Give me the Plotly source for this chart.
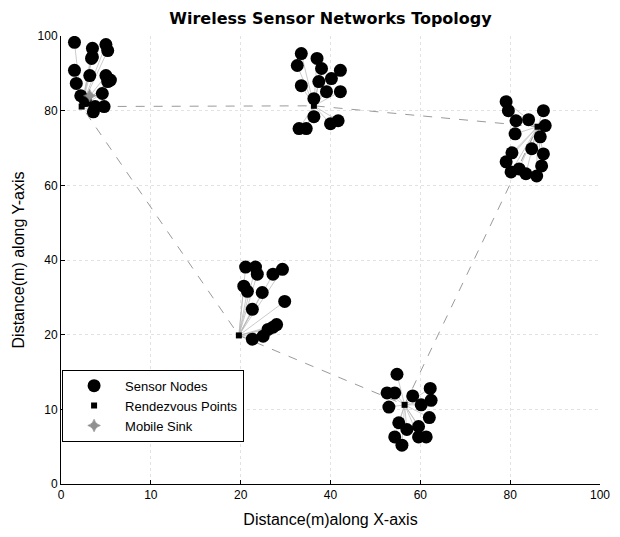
import numpy as np
import plotly.graph_objects as go

# Axis labels as printed on the figure (evenly spaced positions)
TICK_LABELS = [0, 10, 20, 40, 60, 80, 100]

# Sensor node coordinates (m), one cluster per rendezvous point
c1_x = [1.5, 3.5, 5.0, 5.2, 1.5, 3.2, 5.0, 5.2, 1.7, 4.6, 2.2, 3.8, 4.8, 3.6, 3.4, 2.7, 3.5, 5.5]
c1_y = [98.3, 96.7, 97.7, 96.1, 90.8, 89.4, 89.4, 87.8, 87.3, 84.6, 84.0, 81.1, 81.1, 79.7, 94.0, 82.7, 94.4, 88.2]

c2_x = [33.5, 32.6, 37.0, 38.0, 42.2, 40.2, 33.5, 37.4, 39.1, 42.2, 36.3, 36.3, 33.0, 34.6, 40.0, 41.7]
c2_y = [95.3, 92.1, 94.0, 91.3, 90.8, 88.6, 86.7, 87.8, 85.1, 85.1, 83.2, 78.4, 75.2, 75.2, 76.5, 77.3]

c3_x = [21.1, 23.3, 23.7, 27.2, 29.3, 20.7, 21.5, 24.8, 29.8, 22.6, 28.0, 26.1, 22.6, 25.0, 27.2]
c3_y = [38.1, 38.1, 36.2, 36.2, 37.5, 33.0, 31.6, 31.3, 28.9, 26.8, 22.7, 21.4, 19.4, 19.8, 22.0]

c4_x = [79.1, 79.6, 81.3, 84.1, 87.4, 87.8, 81.1, 86.7, 80.4, 79.1, 80.2, 83.5, 85.9, 87.4, 87.0, 84.8, 82.0]
c4_y = [82.4, 80.0, 77.3, 77.6, 80.0, 76.0, 73.8, 73.0, 68.7, 66.3, 63.6, 63.1, 62.5, 68.4, 65.2, 69.8, 64.4]

c5_x = [54.8, 52.6, 54.3, 58.3, 62.2, 53.0, 62.4, 60.2, 62.0, 55.2, 59.6, 57.0, 59.6, 61.3, 54.3, 55.9]
c5_y = [14.7, 12.2, 12.2, 11.8, 12.8, 10.3, 11.2, 10.6, 8.9, 8.2, 7.7, 7.3, 6.3, 6.3, 6.3, 5.2]

# Rendezvous points (m), in cluster order 1..5
rp_x = [2.3, 36.3, 19.8, 86.1, 56.5]
rp_y = [81.1, 81.3, 19.9, 75.7, 10.6]

# Mobile sink tour through the rendezvous points (indices into rp_*)
tour = [0, 1, 3, 4, 2, 0]

# Mobile sink location (m)
sink_x = [3.2]
sink_y = [84.0]

clusters = [(c1_x, c1_y), (c2_x, c2_y), (c3_x, c3_y), (c4_x, c4_y), (c5_x, c5_y)]

pos = list(range(len(TICK_LABELS)))


def to_axis(v):
    """Map metres to the evenly spaced tick positions of the axes."""
    return np.interp(np.asarray(v, dtype=float), TICK_LABELS, pos)


fig = go.Figure()

# Links from each sensor node to its rendezvous point
lx, ly = [], []
for k, (cx, cy) in enumerate(clusters):
    for x, y in zip(cx, cy):
        lx += [rp_x[k], x, None]
        ly += [rp_y[k], y, None]
lx_a = [None if v is None else float(to_axis(v)) for v in lx]
ly_a = [None if v is None else float(to_axis(v)) for v in ly]
fig.add_trace(go.Scatter(x=lx_a, y=ly_a, mode="lines",
                         line=dict(color="#b4b4b4", width=0.7),
                         hoverinfo="skip", showlegend=False))

# Mobile sink route
fig.add_trace(go.Scatter(x=to_axis([rp_x[i] for i in tour]),
                         y=to_axis([rp_y[i] for i in tour]),
                         mode="lines",
                         line=dict(color="#9a9a9a", width=1, dash="dash"),
                         hoverinfo="skip", showlegend=False))

all_x = [v for cx, _ in clusters for v in cx]
all_y = [v for _, cy in clusters for v in cy]
fig.add_trace(go.Scatter(x=to_axis(all_x), y=to_axis(all_y), mode="markers",
                         name="Sensor Nodes",
                         marker=dict(symbol="circle", size=13, color="black")))

fig.add_trace(go.Scatter(x=to_axis(rp_x), y=to_axis(rp_y), mode="markers",
                         name="Rendezvous Points",
                         marker=dict(symbol="square", size=6, color="black")))

fig.add_trace(go.Scatter(x=to_axis(sink_x), y=to_axis(sink_y), mode="markers",
                         name="Mobile Sink",
                         marker=dict(symbol="star-diamond", size=9, color="#8f8f8f",
                                     line=dict(color="#6e6e6e", width=0.5))))

axis_common = dict(
    tickmode="array",
    tickvals=pos,
    ticktext=[str(t) for t in TICK_LABELS],
    range=[0, 6],
    showline=True, linecolor="black", linewidth=1,
    ticks="inside", ticklen=4, tickcolor="black",
    showgrid=True, gridcolor="#e2e2e2", griddash="dot", gridwidth=1,
    zeroline=False,
    ticklabeloverflow="allow",
    tickfont=dict(family="Liberation Sans, Arial", size=12, color="black"),
)

fig.update_xaxes(**axis_common,
                 title=dict(text="Distance(m)along X-axis",
                            font=dict(family="Liberation Sans, Arial", size=16, color="black"),
                            standoff=12))
fig.update_yaxes(**axis_common,
                 title=dict(text="Distance(m) along Y-axis",
                            font=dict(family="Liberation Sans, Arial", size=16, color="black"),
                            standoff=8))

fig.update_layout(
    width=620, height=537,
    margin=dict(l=61, r=10, t=36, b=53),
    paper_bgcolor="white", plot_bgcolor="white",
    title=dict(text="<b>Wireless Sensor Networks Topology</b>",
               x=0.5, xref="paper", y=0.965, yanchor="middle",
               font=dict(family="DejaVu Sans", size=16, color="black")),
    legend=dict(x=0.002, y=0.255, xanchor="left", yanchor="top",
                bgcolor="white", bordercolor="black", borderwidth=1,
                font=dict(family="Liberation Sans, Arial", size=13, color="black"),
                itemwidth=52),
    showlegend=True,
)

fig.write_html("out.html")
